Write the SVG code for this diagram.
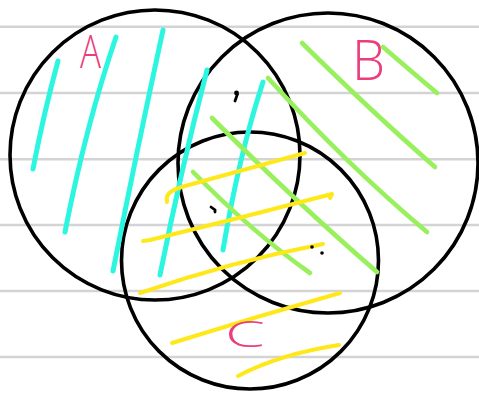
<svg xmlns="http://www.w3.org/2000/svg" width="479" height="395" viewBox="0 0 479 395">
<style>
.rule{stroke:#d4d4d4;stroke-width:2.4}
.ring{fill:none;stroke:#000;stroke-width:3.6}
.cy{fill:none;stroke:#2cf6e0;stroke-width:5;stroke-linecap:round}
.gr{fill:none;stroke:#98f05c;stroke-width:4.6;stroke-linecap:round}
.ye{fill:none;stroke:#ffe81a;stroke-width:4;stroke-linecap:round;stroke-linejoin:round}
.lbl{fill:#ec3d7c;font-family:"Open Sans","Liberation Sans",Arial,sans-serif;font-weight:300}
.mark{fill:none;stroke:#000;stroke-width:2.8;stroke-linecap:round}
</style>
<rect width="479" height="395" fill="#fff"/>
<g id="paper-lines">
<line class="rule" x1="0" y1="26.7" x2="479" y2="26.7"/>
<line class="rule" x1="0" y1="93" x2="479" y2="93"/>
<line class="rule" x1="0" y1="159.3" x2="479" y2="159.3"/>
<line class="rule" x1="0" y1="225" x2="479" y2="225"/>
<line class="rule" x1="0" y1="291" x2="479" y2="291"/>
<line class="rule" x1="0" y1="357" x2="479" y2="357"/>
</g>
<g id="circle-A"><circle class="ring" cx="155" cy="155" r="145"/></g>
<g id="circle-B"><circle class="ring" cx="328" cy="163" r="150"/></g>
<g id="circle-C"><circle class="ring" cx="250" cy="260.5" r="128.5"/></g>
<g id="hatch-A">
<path class="cy" d="M58,61 Q44,112 33,169"/>
<path class="cy" d="M116,37 Q86,125 65,232"/>
<path class="cy" d="M163,30 Q138,145 113,271"/>
<path class="cy" d="M207,70 Q181,170 160,275"/>
<path class="cy" d="M263,82 Q239,155 223,250"/>
</g>
<g id="hatch-B">
<path class="gr" d="M302,43 Q372,112 435,167"/>
<path class="gr" d="M383,47 Q412,72 437,93"/>
<path class="gr" d="M268,78 Q347,165 427,232"/>
<path class="gr" d="M212,118 Q297,203 377,272"/>
<path class="gr" d="M193,172 Q252,232 310,273"/>
</g>
<g id="hatch-C">
<path class="ye" d="M167,202 C165,193 172,190 185,186 Q250,168 305,153"/>
<path class="ye" d="M143,241 L150,240 Q240,218 332,194 L330,198"/>
<path class="ye" d="M140,293 Q230,262 323,244"/>
<path class="ye" d="M172,343 Q255,317 340,293"/>
<path class="ye" d="M238,376 Q280,354 339,345"/>
</g>
<g id="marks">
<circle cx="236.5" cy="93" r="2.4" fill="#000"/>
<path class="mark" d="M237.5,94 l-2.5,7"/>
<path class="mark" d="M211,207 L215,210 l0,2"/>
<circle cx="312" cy="247" r="1.8" fill="#000"/>
<circle cx="322" cy="253" r="1.8" fill="#000"/>
</g>
<g id="labels">
<text class="lbl" x="80" y="68" font-size="46" textLength="21" lengthAdjust="spacingAndGlyphs">A</text>
<text class="lbl" x="352" y="80" font-size="56" textLength="33" lengthAdjust="spacingAndGlyphs">B</text>
<text class="lbl" x="225" y="347" font-size="36" textLength="40" lengthAdjust="spacingAndGlyphs">C</text>
</g>
</svg>
